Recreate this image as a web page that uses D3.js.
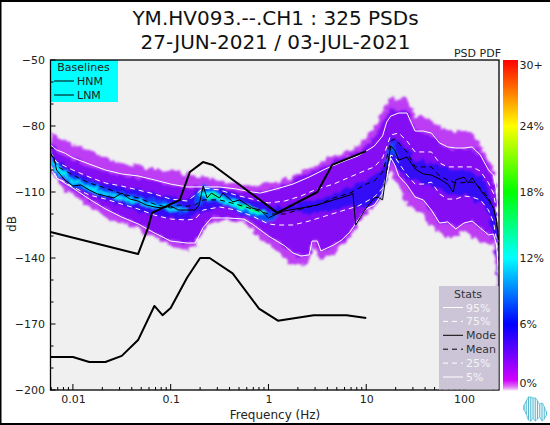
<!DOCTYPE html>
<html><head><meta charset="utf-8">
<script src="https://cdn.jsdelivr.net/npm/d3@7"></script>
<style>html,body{margin:0;padding:0;background:#fff}svg{display:block}text{font-family:"DejaVu Sans",sans-serif;fill:#222}</style>
</head><body><svg id="c" width="550" height="425"></svg>
<script>
const titleLines=["YM.HV093.--.CH1 : 325 PSDs","27-JUN-2021 / 03-JUL-2021"];
const dbTicks=[-50,-80,-110,-140,-170,-200];
const dbMinor=[-60,-70,-90,-100,-120,-130,-150,-160,-180,-190];
const freqTicks=[0.01,0.1,1,10,100];
const colorTicks=[["30+",30],["24%",24],["18%",18],["12%",12],["6%",6],["0%",0]];
const colorStops=[[0,"#f4d0f8"],[0.3,"#e070f4"],[0.9,"#d000ff"],[6,"#0000ff"],[12,"#00ffff"],[18,"#00ff00"],[24,"#ffff00"],[30,"#ff0000"]];

const envF=[.0059,.00681,.00825,.01,.0147,.0215,.0316,.0464,.0681,.1,.147,.215,.316,.464,.681,1,1.47,2.15,3.16,4.64,6.81,8.25,10,12.1,14.7,17.8,21.5,26.1,31.6,38.3,46.4,56.2,68.1,82.5,100,121,147,178,200,215,226];
const envHi=[-82.7,-84.1,-86.8,-87.7,-91.4,-94.5,-97.3,-98.2,-99.5,-100.9,-101.8,-103.6,-105,-106.4,-107.3,-106.4,-104.5,-100.9,-97.7,-93.6,-91.4,-89.1,-85,-80,-73.6,-66.8,-68.2,-66.8,-75.5,-75.5,-77.3,-80.5,-81.8,-82.7,-82.3,-83.2,-88.6,-95.5,-100,-111.4,-127.3];
const envLoF=[.0059,.00681,.00825,.01,.0147,.0215,.0316,.0464,.0681,.1,.147,.178,.215,.261,.383,.562,.825,1.21,1.47,1.78,2.15,2.61,2.79,3.3,4.64,6.81,8.25,10,12.1,14.7,16.2,17.8,21.5,26.1,38.3,46.4,56.2,68.1,100,121,147,178,200,215,226];
const envLo=[-99.1,-103.6,-109.1,-111.8,-116.4,-120.9,-124.1,-127.3,-130.5,-134.1,-136.4,-135,-128.2,-123.6,-122.7,-123.6,-130.9,-136.8,-140,-143.6,-143.6,-141.8,-133.6,-140.9,-138.2,-130.9,-125.5,-120,-116.8,-111.4,-104.5,-100,-106.8,-115.5,-120.5,-125.5,-129.1,-130.9,-127.7,-129.5,-133.2,-133.6,-133.2,-145.5,-156.8];

const p95F=[.0059,.00681,.00825,.01,.0147,.0215,.0316,.0464,.0681,.1,.147,.215,.316,.464,.681,.825,1.21,1.78,2.61,3.83,5.62,8.25,10,12.1,14.7,16.2,17.8,21.5,26.1,31.6,38.3,46.4,56.2,68.1,82.5,100,121,147,178,200,215,226];
const p95=[-88.6,-90.9,-92.3,-94.5,-97.3,-100,-101.8,-102.7,-104.5,-106.4,-107.7,-107.7,-107.7,-108.6,-110,-110.5,-108.6,-106.4,-103.2,-99.5,-96.4,-93.6,-91.4,-89.1,-84.5,-78.2,-75.5,-74.1,-74.1,-82.3,-82.3,-83.2,-87.7,-89.5,-90,-90,-89.5,-93.2,-100,-102.3,-109,-125.9];
const p75F=[.0059,.00681,.01,.0147,.0215,.0316,.0464,.0681,.1,.147,.178,.215,.316,.464,.681,1,1.47,2.15,3.16,4.64,6.81,10,12.1,14.7,16.2,17.8,21.5,26.1,31.6,46.4,56.2,68.1,100,121,147,178,200,215,226];
const p75=[-91.8,-96.4,-100,-103.2,-105.9,-107.3,-109.1,-110.9,-113.2,-114.1,-111.4,-108.2,-109.1,-111.4,-113.2,-115,-114.1,-111.8,-108.6,-106.4,-103.2,-100,-98.6,-94.5,-89.5,-84.1,-83.2,-86.8,-91.8,-91.8,-96.8,-98.6,-98.6,-98.6,-100.5,-105.9,-110.5,-118.2,-129.5];
const p25F=[.0059,.00681,.01,.0147,.0215,.0316,.0464,.0681,.1,.147,.178,.215,.316,.464,.681,1,1.21,1.78,2.61,3.83,5.62,8.25,12.1,14.7,16.2,17.8,19.6,26.1,31.6,38.3,46.4,56.2,68.1,82.5,100,121,147,178,200,215,226];
const p25=[-97.7,-103.2,-107.7,-111.4,-113.2,-115.5,-117.7,-120.5,-122.3,-122.7,-122.3,-118.2,-116.8,-118.2,-120.9,-124.5,-125,-125,-123.2,-120.9,-118.6,-116.4,-112.3,-108.2,-102.3,-93.2,-94.1,-102.3,-106.4,-106.4,-105.5,-110.9,-113.2,-113.2,-111.8,-112.3,-113.6,-118.2,-123.6,-131.8,-143.2];
const p5F=[.0059,.00681,.01,.0147,.0215,.0316,.0464,.0681,.1,.147,.178,.215,.261,.383,.562,.681,1,1.47,1.78,2.15,2.61,2.79,3.16,3.44,4.64,5.62,6.81,8.25,10,12.1,14.7,16.2,17.8,19.6,21.5,26.1,31.6,38.3,46.4,56.2,68.1,82.5,100,121,147,178,200,215,226];
const p5=[-99.1,-103.6,-108.2,-113.2,-117.7,-121.4,-124.5,-128.6,-132.3,-133.2,-133.2,-126.1,-121.8,-121.8,-122.3,-124.5,-130,-134.5,-137.7,-139.1,-138.6,-132.3,-132.3,-136.8,-134.1,-131.8,-128.2,-122.7,-117.7,-115.9,-110.5,-103.6,-94.5,-97.7,-102.7,-106.8,-112.3,-113.6,-118.2,-124.1,-123.6,-126.8,-124.1,-123.2,-126.4,-129.5,-129.1,-134.1,-147.7];
const modeF=[.0059,.0064,.00681,.00825,.01,.0121,.0147,.0178,.0215,.0261,.0316,.0383,.0464,.0562,.0681,.0825,.1,.121,.147,.178,.195,.215,.236,.261,.316,.343,.433,.509,.681,.825,1,1.21,1.47,2.15,3.16,4.64,6.81,7.3,7.8,8.25,10,12.1,13.2,14.7,16.2,17.8,19.6,21.5,26.1,31.6,38.3,46.4,56.2,68.1,77.6,82.5,100,110,121,147,178,200,215,226];
const modeDb=[-93.2,-94.5,-100,-104.5,-107.3,-106.8,-109.1,-110.9,-111.8,-112.7,-110.5,-113.2,-114.1,-115.9,-116.8,-117.3,-116.4,-118.2,-118.2,-118.2,-115.9,-107.3,-112.7,-110.5,-112.7,-110.5,-114.5,-113.6,-117.3,-118.2,-121.8,-120,-118.6,-117.3,-115.9,-113.6,-111.4,-110.5,-125,-123.2,-117.3,-112.7,-112.3,-113.6,-100,-89.1,-90.9,-95.5,-94.1,-99.5,-101.8,-102.3,-104.1,-106.4,-110,-104.5,-103.2,-105.9,-103.6,-109.1,-113.6,-117.3,-123.6,-131.8];
const meanF=[.0059,.00681,.01,.0147,.0215,.0316,.0464,.0681,.1,.121,.147,.178,.215,.316,.464,.681,1,1.47,2.15,3.16,4.64,6.81,10,12.1,14.7,16.2,17.8,19.6,26.1,31.6,46.4,56.2,68.1,82.5,121,147,178,200,215,226];
const meanDb=[-91.8,-98.2,-102.3,-105.9,-108.2,-110.9,-112.7,-115.5,-117.3,-115.9,-116.5,-115.9,-113.6,-113.6,-115.5,-117.7,-120,-120,-117.7,-115.9,-112.7,-110.5,-106.4,-105,-100.9,-94.5,-86.8,-85.9,-91.8,-98.6,-98.6,-102.7,-104.5,-105.9,-105.5,-108.2,-112.7,-117.3,-122.7,-134.1];

const hnmF=[.0059,.0464,.0585,.0645,.124,.157,.214,.27,1.23,3.16,4.48,10];
const hnmDb=[-128.2,-138.2,-126.4,-119.5,-113.6,-100.9,-96.4,-97.7,-119.5,-110,-97.7,-91.4];
const lnmF=[.0059,.01,.0147,.0215,.0316,.0464,.0681,.0825,.1,.147,.2,.25,.43,.8,1.25,2.9,6.3,10];
const lnmDb=[-185,-185,-187.3,-187.3,-184.5,-177.3,-161.8,-166,-162.7,-149,-140,-140,-147,-163,-168.5,-166,-166,-167.3];

const violetF=envF, violetHi=[-87,-91,-93,-95,-98,-101,-102.5,-103.5,-105,-107,-108,-108,-108,-109,-110,-109,-106.5,-103,-99.5,-96,-93.6,-91.5,-89,-85,-78,-72,-73,-73,-82,-82,-84,-88,-90,-90.5,-90,-90,-93,-99,-103,-114,-130];
const violetLoF=p5F, violetLo=p5;
const blueF=[.0059,.01,.0215,.0464,.1,.147,.215,.316,.681,1,1.47,3.16,6.81,10,14.7,17.8,21.5,31.6,46.4,68.1,100,147,178,215,226];
const blueHi=[-91.8,-101,-106.4,-109,-112.7,-113.6,-108.2,-108.2,-113.6,-116.4,-116.8,-113.2,-108.2,-104.5,-100,-85.5,-86.4,-95.5,-96.4,-99.5,-99.5,-102.7,-108.6,-120,-131.8];
const blueLo=[-97.7,-108.2,-113.6,-119,-121.8,-122.7,-119,-116.4,-121.8,-123.6,-118.2,-119.6,-116.4,-117.3,-112.3,-95.5,-100.9,-104.5,-106.8,-111.4,-110.9,-115.5,-119.9,-135.9,-155];
const skyF1=[.0059,.00681,.01,.0215,.0464,.1,.147], skyHi1=[-92.7,-97.7,-102.7,-108.2,-112.3,-115,-116], skyLo1=[-97.7,-102.7,-107.7,-111.8,-116,-119,-119.6];
const skyF2=[.178,.215,.316,.464,.681,1,1.21], skyHi2=[-114,-106.4,-110,-113,-116.4,-119.6,-119.6], skyLo2=[-117,-113.6,-115,-118.2,-121.4,-124,-122.3];
const skyF3=[15.5,17.8,19.6,22], skyHi3=[-96,-87,-88,-97], skyLo3=[-99,-92,-93,-98];
const cyanF1=[.0059,.00681,.01,.0215,.0316,.0681,.1,.147], cyanHi1=[-94,-99,-104.5,-110,-112,-115.5,-116.5,-117.5], cyanLo1=[-96.5,-101,-106,-111.5,-113.5,-117,-118,-118.5];
const cyanF2=[.2,.26,.32,.46,.68,.9], cyanHi2=[-109,-110,-111.5,-114.5,-117,-118.5], cyanLo2=[-112,-113,-114,-117,-119.5,-120.5];
const greenF=[.24,.27,.3], greenHi=[-110.5,-111,-112], greenLo=[-112.5,-112.5,-113];
const greenF2=[.5,.68,.85], greenHi2=[-115,-116.7,-118], greenLo2=[-116.5,-118.5,-119.5];
const logoTop=[405,401,397,397,398,398,401,404,403,407,412];
const logoBottom=[410,414,420,421,418,421,419,417,421,419,415];

const W=550,H=425,L=50.5,R=499,T=60,B=390;
const svg=d3.select("#c");
const x=d3.scaleLog().domain([.0059,228]).range([L,R]);
const y=d3.scaleLinear().domain([-50,-200]).range([T,B]);
const cs=d3.scaleLinear().domain(colorStops.map(d=>d[0])).range(colorStops.map(d=>d[1])).clamp(true);
const cy=d3.scaleLinear().domain([0,30]).range([B,T]);

svg.append("rect").attr("width",W).attr("height",H).attr("fill","#fff");
svg.append("rect").attr("x",0).attr("y",0).attr("width",1.5).attr("height",H).attr("fill","#000");
svg.append("rect").attr("x",0).attr("y",0).attr("width",W).attr("height",2).attr("fill","#000");
svg.append("rect").attr("x",0).attr("y",H-2).attr("width",W).attr("height",2).attr("fill","#000");
svg.append("rect").attr("x",L).attr("y",T).attr("width",R-L).attr("height",B-T).attr("fill","#f0f0f0");

const defs=svg.append("defs");
defs.append("clipPath").attr("id","clip").append("rect").attr("x",L).attr("y",T).attr("width",R-L).attr("height",B-T);
const fl=defs.append("filter").attr("id","soft").attr("filterUnits","userSpaceOnUse").attr("x",L-20).attr("y",T-20).attr("width",R-L+40).attr("height",B-T+40);
fl.append("feTurbulence").attr("type","fractalNoise").attr("baseFrequency",0.16).attr("numOctaves",2).attr("seed",7).attr("result","n");
fl.append("feDisplacementMap").attr("in","SourceGraphic").attr("in2","n").attr("scale",9).attr("xChannelSelector","R").attr("yChannelSelector","G").attr("result","d");
fl.append("feGaussianBlur").attr("in","d").attr("stdDeviation",0.8);

const interp=(xs,ys)=>d3.scaleLog().domain(xs).range(ys);
function band(hiF,hi,loF,lo,col){
  const fs=Array.from(new Set([...hiF,...loF])).sort((a,b)=>a-b);
  const a=interp(hiF,hi),b=interp(loF,lo);
  const area=d3.area().x(f=>x(f)).y0(f=>y(b(f))).y1(f=>y(a(f)));
  heat.append("path").attr("d",area(fs)).attr("fill",col);
}
const plot=svg.append("g").attr("clip-path","url(#clip)");
const heat=plot.append("g").attr("filter","url(#soft)");
band(envF,envHi,envLoF,envLo,"#bc3cf4");
band(violetF,violetHi,violetLoF,violetLo,"#8410f4");
band(blueF,blueHi,blueF,blueLo,"#3008f6");
band(skyF1,skyHi1,skyF1,skyLo1,cs(8));
band(skyF2,skyHi2,skyF2,skyLo2,cs(8));
band(skyF3,skyHi3,skyF3,skyLo3,cs(8));
band(cyanF1,cyanHi1,cyanF1,cyanLo1,cs(11.5));
band(cyanF2,cyanHi2,cyanF2,cyanLo2,cs(12.5));
band(greenF,greenHi,greenF,greenLo,cs(16));
band(greenF2,greenHi2,greenF2,greenLo2,cs(16));

const ln=d3.line().x(d=>x(d[0])).y(d=>y(d[1]));
function curve(F,V,col,w,dash){
  plot.append("path").attr("d",ln(F.map((f,i)=>[f,V[i]]))).attr("fill","none").attr("stroke",col)
   .attr("stroke-width",w).attr("stroke-dasharray",dash||null).attr("stroke-linejoin","round");
}
curve(p95F,p95,"#fff",1);
curve(p75F,p75,"#fff",1,"5,4");
curve(p25F,p25,"#fff",1,"5,4");
curve(p5F,p5,"#fff",1);
curve(modeF,modeDb,"#000",1);
curve(meanF,meanDb,"#000",1,"5,4");
curve(hnmF,hnmDb,"#000",2);
curve(lnmF,lnmDb,"#000",2);

// baselines legend sits beneath the axis ticks
const lb=svg.append("g");
lb.append("rect").attr("x",L).attr("y",T).attr("width",67.5).attr("height",42).attr("fill","#00ffff");
lb.append("text").attr("x",83.5).attr("y",71).attr("text-anchor","middle").attr("font-size",11).text("Baselines");
[["HNM",81],["LNM",95]].forEach(([t,yy])=>{
  lb.append("line").attr("x1",54).attr("x2",74).attr("y1",yy).attr("y2",yy).attr("stroke","#000");
  lb.append("text").attr("x",77).attr("y",yy+4).attr("font-size",11).text(t);
});

// axes
const ax=svg.append("g");
const minorF=[];
for(const d of [.001,.01,.1,1,10,100])for(let k=2;k<=9;k++){const f=d*k;if(f>=.0059&&f<=228)minorF.push(f);}
const xAxis=d3.axisBottom(x).tickValues(freqTicks).tickFormat(d=>String(d)).tickSize(0).tickPadding(3);
const gx=ax.append("g").attr("transform",`translate(0,${B})`).call(xAxis);
gx.select(".domain").remove();
gx.selectAll("text").attr("font-size",11).attr("dy","0.95em").style("fill","#222");
ax.selectAll(".mx").data(minorF).join("line").attr("x1",x).attr("x2",x).attr("y1",B).attr("y2",B-3).attr("stroke","#000");
ax.selectAll(".Mx").data(freqTicks).join("line").attr("x1",x).attr("x2",x).attr("y1",B).attr("y2",B-6).attr("stroke","#000");
const yAxis=d3.axisLeft(y).tickValues(dbTicks).tickSize(0).tickPadding(5.5);
const gy=ax.append("g").attr("transform",`translate(${L},0)`).call(yAxis);
gy.select(".domain").remove();
gy.selectAll("text").attr("font-size",11).style("fill","#222");
ax.selectAll(".my").data(dbMinor).join("line").attr("x1",L).attr("x2",L+3).attr("y1",y).attr("y2",y).attr("stroke","#000");
ax.selectAll(".My").data(dbTicks).join("line").attr("x1",L).attr("x2",L+5).attr("y1",y).attr("y2",y).attr("stroke","#000");

svg.append("rect").attr("x",L).attr("y",T).attr("width",R-L).attr("height",B-T).attr("fill","none").attr("stroke","#000").attr("stroke-width",1.3);

const st=svg.append("g");
st.append("rect").attr("x",439).attr("y",286).attr("width",59.5).attr("height",103.5).attr("fill","#ccc5d8");
st.append("text").attr("x",468).attr("y",298).attr("text-anchor","middle").attr("font-size",11).style("fill","#333").text("Stats");
const statsNames=["95%","75%","Mode","Mean","25%","5%"];
const statsCols=["#fff","#fff","#000","#000","#fff","#fff"];
const statsDash=[null,"5,4",null,"5,4","5,4",null];
statsNames.forEach((t,i)=>{
  const yy=307.5+i*13.9;
  st.append("line").attr("x1",443).attr("x2",463).attr("y1",yy).attr("y2",yy).attr("stroke",statsCols[i]).attr("stroke-dasharray",statsDash[i]);
  st.append("text").attr("x",466).attr("y",yy+4).attr("font-size",11).style("fill",statsCols[i]=="#fff"?"#f4f4f4":"#333").text(t);
});

// colour bar
const cb=svg.append("g");
cb.selectAll("rect").data(d3.range(0,30,30/330)).join("rect").attr("x",503).attr("width",15)
 .attr("y",d=>cy(d+30/330)).attr("height",1.4).attr("fill",d=>cs(d));
colorTicks.forEach(([t,v])=>{
  const yy=v==30?65:v==0?383:cy(v);
  cb.append("text").attr("x",519.5).attr("y",yy+4).attr("font-size",11).text(t);
});
svg.append("text").attr("x",501).attr("y",57).attr("text-anchor","end").attr("font-size",11).text("PSD PDF");

// logo
const lx=d3.scaleLinear().domain([0,logoTop.length-1]).range([524,546.5]);
const logoArea=d3.area().x((d,i)=>lx(i)).y0((d,i)=>logoBottom[i]).y1((d,i)=>logoTop[i]).curve(d3.curveMonotoneX);
svg.append("path").attr("d",logoArea(logoTop)).attr("fill","#eef9fb").attr("stroke","#62c6dc").attr("stroke-width",1);
svg.selectAll(".lg").data(logoTop).join("line").attr("x1",(d,i)=>lx(i)).attr("x2",(d,i)=>lx(i)).attr("y1",d=>d).attr("y2",(d,i)=>logoBottom[i]).attr("stroke","#58b8d0").attr("stroke-width",1);

// text
titleLines.forEach((t,i)=>svg.append("text").attr("x",275.5).attr("y",25+i*24).attr("text-anchor","middle").attr("font-size",20).style("fill","#111").text(t));
svg.append("text").attr("x",275).attr("y",418.5).attr("text-anchor","middle").attr("font-size",12).text("Frequency (Hz)");
svg.append("text").attr("transform","translate(16,224) rotate(-90)").attr("text-anchor","middle").attr("font-size",12).text("dB");
</script></body></html>
